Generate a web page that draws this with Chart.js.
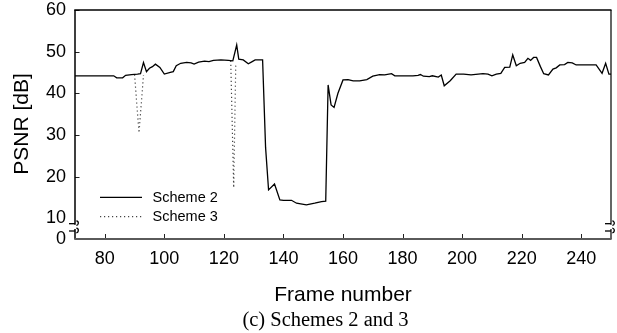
<!DOCTYPE html>
<html>
<head>
<meta charset="utf-8">
<script src="https://cdn.jsdelivr.net/npm/chart.js@4/dist/chart.umd.min.js"></script>
<style>
  html, body { margin: 0; padding: 0; background: #fff; }
  #wrap { width: 617px; height: 333px; position: relative; }
</style>
</head>
<body>
<div id="wrap"><canvas id="chart"></canvas></div>
<script>
// PSNR per frame, Scheme 2
const frames2 = [70, 83, 84, 86, 87, 89, 91, 92, 93, 94, 95, 96, 97, 98.5, 100, 102, 103, 104, 105.5, 107.5,
  109, 110, 111.5, 113.5, 115, 116.5, 119, 121.5, 123, 124.3, 125, 126.5, 128.2, 129.5, 130.5, 133,
  134, 135, 137, 138.8, 140, 142.7, 144.4, 147.7, 150.5, 152.8, 154.2, 155, 156, 157, 158.3, 160,
  161.7, 163.4, 165.6, 168, 170, 172.3, 174, 176.3, 177.4, 180, 183.5, 185.2, 186, 187, 189, 190,
  192, 193, 194, 196, 198, 200.5, 203, 207, 208.7, 210, 211.5, 213, 214.3, 216, 217, 218.2, 219.5,
  221, 222.1, 223, 224, 225, 226.3, 227.4, 229, 230.5, 231.6, 232.8, 234.4, 235.5, 237, 238.3, 245,
  247, 248.2, 249.3, 250];
const psnr2 = [44.2, 44.2, 43.7, 43.7, 44.3, 44.5, 44.6, 44.7, 47.4, 45.2, 46.0, 46.4, 47.0, 46.2, 44.6, 45.0, 45.2, 46.6, 47.2, 47.4,
  47.3, 47.0, 47.5, 47.7, 47.6, 47.9, 48.0, 47.9, 47.8, 51.6, 48.2, 48.0, 47.1, 47.6, 48.0, 48.0,
  27.0, 16.8, 18.2, 14.4, 14.3, 14.3, 13.6, 13.2, 13.6, 14.0, 14.1, 42.0, 37.2, 36.6, 40.0, 43.2,
  43.3, 43.0, 43.0, 43.3, 44.1, 44.5, 44.4, 44.7, 44.2, 44.2, 44.2, 44.3, 44.5, 44.1, 44.0, 44.2,
  43.9, 44.4, 41.8, 43.0, 44.6, 44.6, 44.4, 44.7, 44.6, 44.2, 44.6, 44.8, 46.2, 46.3, 49.2, 46.6, 47.2,
  47.4, 48.4, 47.9, 48.6, 48.6, 46.4, 44.7, 44.4, 45.8, 46.1, 46.8, 46.9, 47.4, 47.3, 46.8, 46.8,
  44.8, 47.2, 44.6, 44.6];

// PSNR per frame, Scheme 3 (only where it departs from Scheme 2; null breaks the line)
const frames3 = [90, 91.5, 93, 108, 122.3, 123.3, 124];
const psnr3 = [44.5, 30.5, 44.4, null, 47.8, 17.3, 47.2];

const seriesLabels = ['Scheme 2', 'Scheme 3'];
const xTicks = [80, 100, 120, 140, 160, 180, 200, 220, 240];
const yTicks = [0, 10, 20, 30, 40, 50, 60];
const xTitle = 'Frame number';
const yTitle = 'PSNR [dB]';
const caption = '(c) Schemes 2 and 3';

// Broken y axis: the 0–10 band is drawn at half scale
const BREAK = 10;
const toAxis = v => (v === null ? null : (v >= BREAK ? v : BREAK / 2 + v / 2));
const fromAxis = a => (a >= BREAK ? a : (a - BREAK / 2) * 2);

const SANS = "'Liberation Sans', Arial, Helvetica, sans-serif";
const SERIF = "'Liberation Serif', 'Times New Roman', serif";

function points(xs, ys) {
  return xs.map((x, i) => ({ x: x, y: toAxis(ys[i]) }));
}

// Frame, inward ticks, axis-break marks, titles, legend and caption
const decorations = {
  id: 'decorations',
  afterDraw(chart) {
    const ctx = chart.ctx;
    const a = chart.chartArea;
    const xs = chart.scales.x, ys = chart.scales.y;
    const L = a.left, R = a.right, T = a.top, B = a.bottom;
    const yb1 = ys.getPixelForValue(toAxis(BREAK)) + 5;
    const yb2 = B - 8.5;
    ctx.save();

    // inward tick marks
    ctx.strokeStyle = '#222';
    ctx.lineWidth = 1;
    xTicks.forEach(v => {
      const px = Math.round(xs.getPixelForValue(v)) + 0.5;
      ctx.beginPath(); ctx.moveTo(px, B); ctx.lineTo(px, B - 5); ctx.stroke();
    });
    yTicks.filter(v => v > BREAK).forEach(v => {
      const py = Math.round(ys.getPixelForValue(toAxis(v))) + 0.5;
      ctx.beginPath(); ctx.moveTo(L, py); ctx.lineTo(L + 4.5, py); ctx.stroke();
    });

    // top border
    ctx.strokeStyle = '#000';
    ctx.lineWidth = 1.5;
    ctx.beginPath(); ctx.moveTo(L - 0.75, T); ctx.lineTo(R + 0.5, T); ctx.stroke();
    // left axis, interrupted at the break
    ctx.beginPath();
    ctx.moveTo(L, T); ctx.lineTo(L, yb1 + 1.5);
    ctx.moveTo(L, yb2 - 1.5); ctx.lineTo(L, B);
    ctx.stroke();
    // right border, interrupted at the break
    ctx.lineWidth = 1.2;
    ctx.beginPath();
    ctx.moveTo(R, T); ctx.lineTo(R, yb1 + 1.5);
    ctx.moveTo(R, yb2 - 1.5); ctx.lineTo(R, B);
    ctx.stroke();
    // bottom axis
    ctx.strokeStyle = '#5a5a5a';
    ctx.lineWidth = 2;
    ctx.beginPath(); ctx.moveTo(L - 0.75, B); ctx.lineTo(R + 0.6, B); ctx.stroke();

    // break marks on both vertical edges
    ctx.strokeStyle = '#000';
    ctx.lineWidth = 1.3;
    [L, R].forEach(ex => {
      [yb1, yb2].forEach(yy => {
        ctx.beginPath();
        ctx.moveTo(ex - 6, yy + 0.5);
        ctx.lineTo(ex, yy + 0.5);
        ctx.stroke();
        ctx.beginPath();
        ctx.arc(ex + 1, yy, 2.3, -Math.PI / 2.2, Math.PI / 2.2);
        ctx.stroke();
      });
    });

    // axis titles and caption
    ctx.fillStyle = '#000';
    ctx.textAlign = 'center';
    ctx.textBaseline = 'middle';
    ctx.font = '21px ' + SANS;
    ctx.fillText(xTitle, (L + R) / 2, 295);
    ctx.save();
    ctx.translate(22, 124);
    ctx.rotate(-Math.PI / 2);
    ctx.fillText(yTitle, 0, 0);
    ctx.restore();
    ctx.font = '20.5px ' + SERIF;
    ctx.fillText(caption, 325.5, 321);

    // legend inside the plot
    const rows = [197.3, 216.7];
    chart.data.datasets.forEach((ds, i) => {
      const y = rows[i];
      ctx.strokeStyle = ds.borderColor;
      ctx.lineWidth = ds.borderWidth;
      ctx.setLineDash(ds.borderDash || []);
      ctx.beginPath(); ctx.moveTo(100, y); ctx.lineTo(142, y); ctx.stroke();
      ctx.setLineDash([]);
      ctx.fillStyle = '#000';
      ctx.textAlign = 'left';
      ctx.font = '14.5px ' + SANS;
      ctx.fillText(ds.label, 152.5, y + 0.5);
    });
    ctx.restore();
  }
};

new Chart(document.getElementById('chart'), {
  type: 'line',
  data: {
    datasets: [
      {
        label: seriesLabels[0],
        data: points(frames2, psnr2),
        borderColor: '#000',
        borderWidth: 1.3,
        pointRadius: 0,
        tension: 0,
        order: 1
      },
      {
        label: seriesLabels[1],
        data: points(frames3, psnr3),
        borderColor: '#444',
        borderWidth: 1.2,
        borderDash: [1.2, 2.8],
        pointRadius: 0,
        tension: 0,
        spanGaps: false,
        order: 2
      }
    ]
  },
  options: {
    responsive: true,
    maintainAspectRatio: false,
    animation: false,
    events: [],
    layout: { padding: { top: 10, right: 6, left: 0, bottom: 0 } },
    plugins: { legend: { display: false }, tooltip: { enabled: false } },
    scales: {
      x: {
        type: 'linear',
        min: 70,
        max: 250,
        grid: { display: false, drawTicks: false },
        border: { display: false },
        afterBuildTicks: s => { s.ticks = xTicks.map(v => ({ value: v })); },
        afterFit: s => { s.height = 94; s.paddingLeft = 0; s.paddingRight = 0; },
        ticks: {
          autoSkip: false,
          maxRotation: 0,
          padding: 9,
          color: '#000',
          font: { family: SANS, size: 18 }
        }
      },
      y: {
        type: 'linear',
        min: toAxis(0),
        max: 60,
        grid: { display: false, drawTicks: false },
        border: { display: false },
        afterBuildTicks: s => { s.ticks = yTicks.map(v => ({ value: toAxis(v) })); },
        afterFit: s => { s.width = 75; s.paddingTop = 0; s.paddingBottom = 0; },
        ticks: {
          padding: 9,
          color: '#000',
          font: { family: SANS, size: 18 },
          callback: v => String(fromAxis(v))
        }
      }
    }
  },
  plugins: [decorations]
});
</script>
</body>
</html>
